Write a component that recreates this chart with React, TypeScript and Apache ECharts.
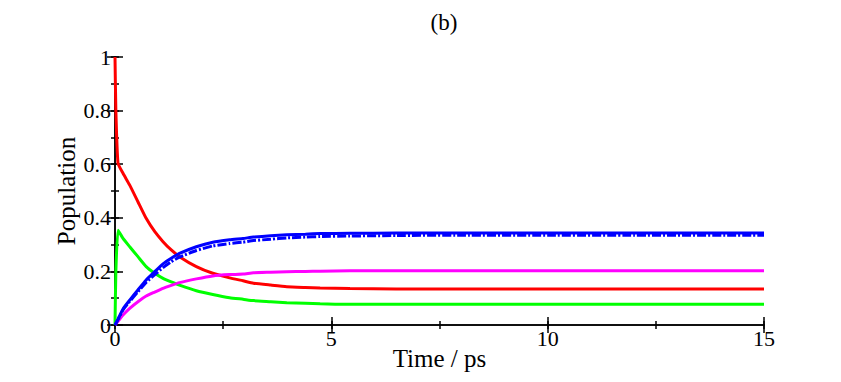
import React, { useEffect, useRef } from "react";
import * as echarts from "echarts";

const titleText = "(b)";
const xName = "Time / ps";
const yName = "Population";

const time = [0, 0.02, 0.07, 0.185, 0.34, 0.53, 0.72, 0.92, 1.11, 1.3, 1.49, 1.88, 2.26, 2.65, 2.96, 3.2, 3.6, 3.97, 4.4, 4.74, 5.43, 6.5, 8, 10, 12, 15];

const red = [1.0, 0.8, 0.603, 0.566, 0.522, 0.46, 0.398, 0.348, 0.311, 0.28, 0.255, 0.218, 0.193, 0.176, 0.165, 0.156, 0.149, 0.143, 0.14, 0.138, 0.136, 0.134, 0.134, 0.134, 0.134, 0.134];
const green = [0, 0.2, 0.354, 0.323, 0.292, 0.255, 0.218, 0.193, 0.174, 0.161, 0.149, 0.128, 0.114, 0.102, 0.096, 0.091, 0.087, 0.083, 0.081, 0.079, 0.077, 0.077, 0.077, 0.077, 0.077, 0.077];
const blueSolid = [0, 0.006, 0.022, 0.06, 0.093, 0.131, 0.168, 0.199, 0.228, 0.249, 0.267, 0.292, 0.309, 0.318, 0.323, 0.328, 0.333, 0.337, 0.339, 0.341, 0.342, 0.343, 0.343, 0.343, 0.343, 0.343];
const blueDashed = [0, 0.006, 0.02, 0.056, 0.088, 0.124, 0.159, 0.188, 0.214, 0.236, 0.253, 0.278, 0.295, 0.304, 0.309, 0.315, 0.32, 0.325, 0.328, 0.33, 0.332, 0.334, 0.335, 0.335, 0.335, 0.335];
const magenta = [0, 0.004, 0.014, 0.037, 0.062, 0.087, 0.108, 0.123, 0.137, 0.148, 0.158, 0.172, 0.183, 0.188, 0.19, 0.195, 0.197, 0.199, 0.2, 0.201, 0.202, 0.202, 0.202, 0.202, 0.202, 0.202];

const FONT = "'Liberation Serif', 'Times New Roman', serif";

function pairs(vals: number[]) {
  return time.map((t, i) => [t, vals[i]]);
}

export default function App() {
  const ref = useRef<HTMLDivElement>(null);
  useEffect(() => {
    if (!ref.current) return;
    const chart = echarts.init(ref.current, undefined, { renderer: "svg" });
    const lineSt = { color: "#000", width: 1.5 };
    const axisLine = { show: true, lineStyle: lineSt };
    const noLine = { show: false };
    const majorTick = { show: true, inside: true, length: 8, lineStyle: lineSt };
    const minorTick = { show: true, inside: true, length: 4, lineStyle: lineSt };
    const xBase = { type: "value", min: 0, max: 15, splitLine: { show: false } };
    const yBase = { type: "value", min: 0, max: 1, splitLine: { show: false } };
    const mk = (name: string, vals: number[], color: string, dashed?: boolean) => ({
      name,
      type: "line",
      xAxisIndex: 0,
      yAxisIndex: 0,
      data: pairs(vals),
      showSymbol: false,
      symbol: "none",
      smooth: 0.15,
      lineStyle: { color, width: 3, type: dashed ? [9, 2, 2, 2] : "solid" },
      itemStyle: { color },
    });
    chart.setOption({
      animation: false,
      backgroundColor: "#fff",
      title: {
        text: titleText,
        left: 439,
        textAlign: "center",
        top: 6,
        textStyle: { fontFamily: FONT, fontSize: 23, fontWeight: "normal", color: "#000" },
      },
      grid: { left: 115, right: 77, top: 57, bottom: 57, containLabel: false, outerBoundsMode: "none" },
      xAxis: [
        {
          ...xBase,
          position: "bottom",
          interval: 5,
          name: xName,
          nameLocation: "middle",
          nameGap: 21,
          nameMoveOverlap: false,
          nameTextStyle: { fontFamily: FONT, fontSize: 25, color: "#000" },
          axisLine,
          axisTick: majorTick,
          axisLabel: { fontFamily: FONT, fontSize: 22, color: "#000", margin: 2 },
        },
        { ...xBase, position: "bottom", interval: 2.5, axisLine: noLine, axisTick: minorTick, axisLabel: { show: false } },
        { ...xBase, position: "top", interval: 5, axisLine, axisTick: majorTick, axisLabel: { show: false } },
        { ...xBase, position: "top", interval: 2.5, axisLine: noLine, axisTick: minorTick, axisLabel: { show: false } },
      ],
      yAxis: [
        {
          ...yBase,
          position: "left",
          interval: 0.2,
          name: yName,
          nameLocation: "middle",
          nameGap: 36,
          nameMoveOverlap: false,
          nameTextStyle: { fontFamily: FONT, fontSize: 25, color: "#000" },
          axisLine,
          axisTick: majorTick,
          axisLabel: { fontFamily: FONT, fontSize: 22, color: "#000", margin: 4 },
        },
        { ...yBase, position: "left", interval: 0.1, axisLine: noLine, axisTick: minorTick, axisLabel: { show: false } },
        { ...yBase, position: "right", interval: 0.2, axisLine, axisTick: majorTick, axisLabel: { show: false } },
        { ...yBase, position: "right", interval: 0.1, axisLine: noLine, axisTick: minorTick, axisLabel: { show: false } },
      ],
      series: [
        mk("red", red, "#ff0000"),
        mk("green", green, "#00ff00"),
        mk("magenta", magenta, "#ff00ff"),
        mk("blueDashed", blueDashed, "#0000ff", true),
        mk("blueSolid", blueSolid, "#0000ff"),
      ],
    });
    return () => chart.dispose();
  }, []);
  return <div ref={ref} style={{ position: "fixed", left: 0, top: 0, width: 841, height: 382 }} />;
}
